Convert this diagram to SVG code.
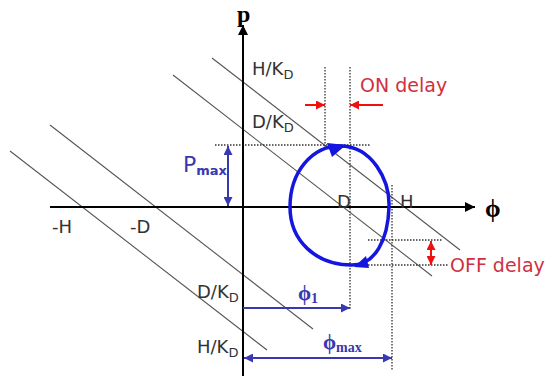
<svg xmlns="http://www.w3.org/2000/svg" width="553" height="376" viewBox="0 0 553 376">
<defs>
<style>
.axis{stroke:#000;stroke-width:2;fill:none}
.diag{stroke:#555;stroke-width:1.1;fill:none}
.dot{stroke:#333;stroke-width:1.3;stroke-dasharray:1.5,1.5;fill:none}
.red{stroke:#ee1111;stroke-width:2;fill:none}
.blu{stroke:#3838b0;stroke-width:2;fill:none}
.lbl{font-family:"DejaVu Sans",sans-serif;font-size:18px;fill:#333}
.sub{font-size:13px}
.rt{font-family:"DejaVu Sans",sans-serif;font-size:19px;fill:#d03040}
.bt{font-family:"DejaVu Sans",sans-serif;fill:#3838b0}
.gr{font-family:"Liberation Serif","DejaVu Serif",serif;font-weight:bold}
</style>
<marker id="ah" viewBox="0 0 10 10" refX="10" refY="5" markerWidth="10" markerHeight="10" markerUnits="userSpaceOnUse" orient="auto-start-reverse"><path d="M0,0 L10,5 L0,10 Z" fill="#000"/></marker>
<marker id="rh" viewBox="0 0 10 10" refX="10" refY="5" markerWidth="9" markerHeight="9" markerUnits="userSpaceOnUse" orient="auto-start-reverse"><path d="M0,0 L10,5 L0,10 Z" fill="#ee1111"/></marker>
<marker id="bh" viewBox="0 0 10 10" refX="10" refY="5" markerWidth="9" markerHeight="9" markerUnits="userSpaceOnUse" orient="auto-start-reverse"><path d="M0,0 L10,5 L0,10 Z" fill="#3838b0"/></marker>
</defs>
<rect width="553" height="376" fill="#fff"/>

<g id="connectors">
<line class="diag" x1="212" y1="58" x2="460" y2="250"/>
<line class="diag" x1="173" y1="75" x2="432" y2="276"/>
<line class="diag" x1="50" y1="125" x2="313" y2="329"/>
<line class="diag" x1="10" y1="151" x2="267" y2="350"/>
<line class="dot" x1="325" y1="67" x2="325" y2="148"/>
<line class="dot" x1="350" y1="67" x2="350" y2="310"/>
<line class="dot" x1="392" y1="185" x2="392" y2="370"/>
<line class="dot" x1="215" y1="145" x2="370" y2="145"/>
<line class="dot" x1="368" y1="240" x2="442" y2="240"/>
<line class="dot" x1="368" y1="265" x2="448" y2="265"/>
<line class="axis" x1="50" y1="207" x2="475" y2="207" marker-end="url(#ah)"/>
<line class="axis" x1="243" y1="376" x2="243" y2="25" marker-end="url(#ah)"/>
<line class="red" x1="305" y1="105" x2="325" y2="105" marker-end="url(#rh)"/>
<line class="red" x1="383" y1="105" x2="350" y2="105" marker-end="url(#rh)"/>
<line class="red" x1="431" y1="241" x2="431" y2="265" marker-start="url(#rh)" marker-end="url(#rh)"/>
<line class="blu" x1="228" y1="146" x2="228" y2="206" marker-start="url(#bh)" marker-end="url(#bh)"/>
<line class="blu" x1="243" y1="308" x2="350" y2="308" marker-end="url(#bh)"/>
<line class="blu" x1="244" y1="358" x2="392" y2="358" marker-start="url(#bh)" marker-end="url(#bh)"/>
</g>

<g id="loop">
<path d="M340,146 C372,146 390,180 389,207 C388,240 375,265 352,265 C315,265 290,240 290,207 C290,172 312,146 340,146 Z" fill="none" stroke="#1515e0" stroke-width="3.5"/>
<path d="M346,145 L327,143 L332,157 Z" fill="#1515e0"/>
<path d="M354,267 L366,256 L369,268 Z" fill="#1515e0"/>
</g>

<g id="labels">
<text class="gr" x="237" y="22" font-size="24">p</text>
<text class="gr" x="485" y="217" font-size="25">ϕ</text>
<text class="lbl" x="252" y="75">H/K<tspan class="sub" dy="4">D</tspan></text>
<text class="lbl" x="252" y="128">D/K<tspan class="sub" dy="4">D</tspan></text>
<text class="lbl" x="197" y="298">D/K<tspan class="sub" dy="4">D</tspan></text>
<text class="lbl" x="197" y="353">H/K<tspan class="sub" dy="4">D</tspan></text>
<text class="lbl" x="52" y="233">-H</text>
<text class="lbl" x="130" y="233">-D</text>
<text class="lbl" x="337" y="208">D</text>
<text class="lbl" x="400" y="208">H</text>
<text class="rt" x="360" y="92">ON delay</text>
<text class="rt" x="450" y="272">OFF delay</text>
<text class="bt" x="183" y="172" font-size="22">P<tspan font-size="13" font-weight="bold" dy="3">max</tspan></text>
<text class="gr" x="298" y="300" font-size="21" fill="#3838b0">ϕ<tspan font-size="14" dy="3">1</tspan></text>
<text class="gr" x="323" y="349" font-size="21" fill="#3838b0">ϕ<tspan font-size="14" dy="3">max</tspan></text>
</g>
</svg>
